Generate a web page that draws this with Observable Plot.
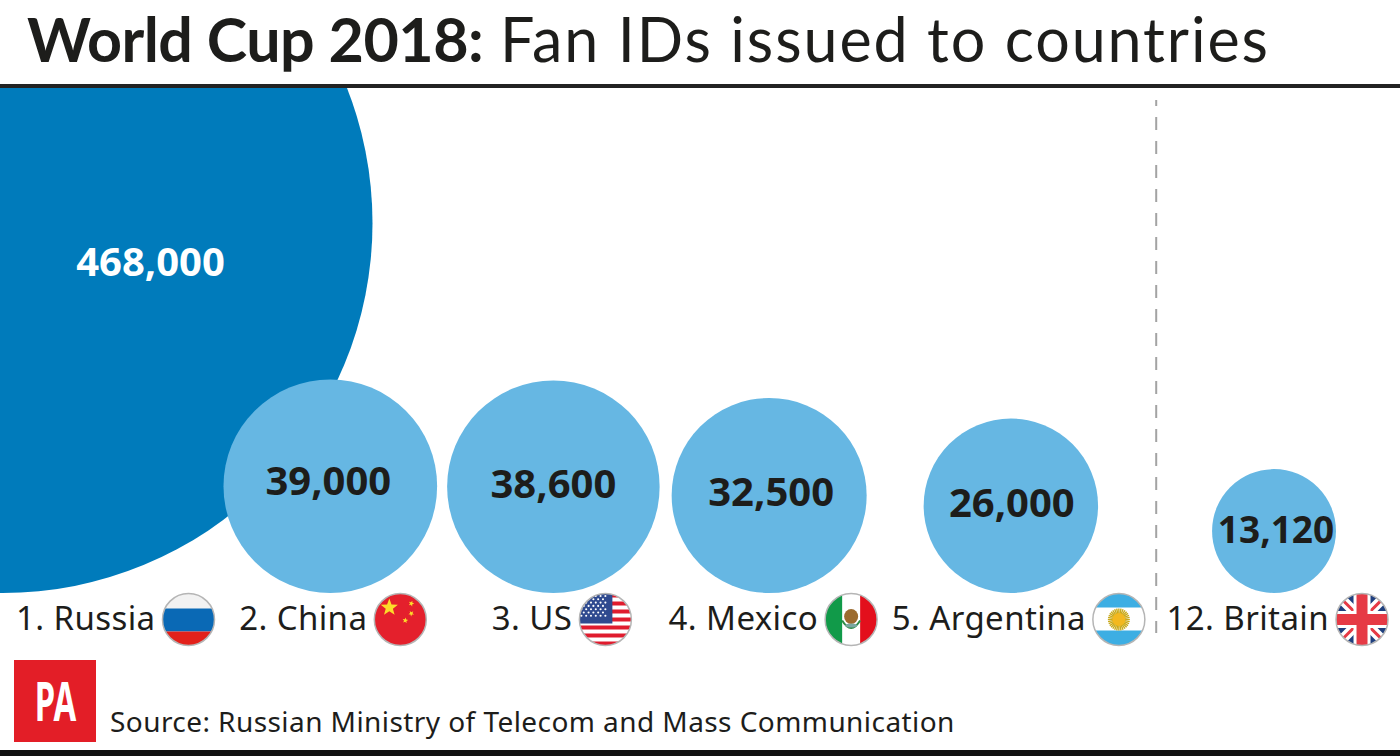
<!DOCTYPE html>
<html>
<head>
<meta charset="utf-8">
<script src="https://cdn.jsdelivr.net/npm/d3@7"></script>
<script src="https://cdn.jsdelivr.net/npm/@observablehq/plot@0.6"></script>
<style>
  html, body { margin: 0; background: #fff; overflow: hidden; }
  body { width: 1400px; height: 756px; position: relative; font-family: "Noto Sans", sans-serif; color: #1d1d1b; }
  #title { position: absolute; left: 27px; top: 0; height: 84px; width: 1373px; line-height: 78px; font-size: 61px; font-family: Lato, sans-serif; white-space: nowrap; }
  #title b { letter-spacing: -0.5px; }
  #title span { letter-spacing: 1.9px; position: absolute; left: 473px; }
  #rule { position: absolute; left: 0; top: 84px; width: 1400px; height: 4px; background: #222; }
  #chart { position: absolute; left: 0; top: 88px; }
  #chart svg { overflow: hidden; display: block; }
  #logo { position: absolute; left: 14px; top: 660px; width: 82px; height: 82px; background: #e31e27; color: #fff; font-weight: 700; font-size: 53px; line-height: 82px; text-align: center; }
  #logo span { display: inline-block; transform: scaleX(.62); }
  #source { position: absolute; left: 110px; top: 702px; font-size: 28px; line-height: 38px; letter-spacing: .43px; white-space: nowrap; }
  #bottom { position: absolute; left: 0; top: 750px; width: 1400px; height: 6px; background: #111; }
  .label text { letter-spacing: .4px; }
</style>
</head>
<body>
<div id="title"><b>World Cup 2018:</b><span>Fan IDs issued to countries</span></div>
<div id="rule"></div>
<div id="chart"></div>
<div id="logo"><span>PA</span></div>
<div id="source">Source: Russian Ministry of Telecom and Mass Communication</div>
<div id="bottom"></div>
<script>
const countries = ['Russia', 'China', 'US', 'Mexico', 'Argentina', 'Britain']
const ranks = [1, 2, 3, 4, 5, 12]
const fanIds = [468000, 39000, 38600, 32500, 26000, 13120]

// layout, not data: space between neighbouring bubbles, where flags and numbers sit
const gaps = [-149, 10, 12, 57, 114]
const flagShift = [186, 70, 52, 82, 108, 88]
const numberShiftX = [148, -2, 0, 2, 1, 2]
const numberShiftY = [40, -4, -2, -2, -2, 0]
const maxR = 370
const base = 504.5
const flagY = 531

const star = (cx, cy, r, rot) => {
  const pts = d3.range(10).map(i => {
    const a = (i * 36 + rot - 90) * Math.PI / 180, q = i % 2 ? r * 0.42 : r
    return `${cx + q * Math.cos(a)},${cy + q * Math.sin(a)}`
  })
  return `<polygon points="${pts.join(' ')}" fill="#fcdc2a"/>`
}

const usStripes = d3.range(0, 13, 2).map(i => `<rect y="${i * 4}" width="52" height="4" fill="#e01c2e"/>`).join('')
const usStars = d3.range(7).map(j => d3.range(j % 2 ? 5 : 6).map(i =>
  `<circle cx="${(j % 2 ? 4.4 : 2) + i * 4.8}" cy="${2.5 + j * 3.3}" r="1.05" fill="#fff"/>`).join('')).join('')
const sunRays = d3.range(16).map(i =>
  `<rect x="25.3" y="15" width="1.4" height="22" fill="#c9a91a" transform="rotate(${i * 11.25} 26 26)"/>`).join('')

const flags = {
  Russia: `<rect width="52" height="52" fill="#f2f2f2"/><rect y="15" width="52" height="23" fill="#0a69b5"/><rect y="38" width="52" height="14" fill="#e3211b"/>`,
  China: `<rect width="52" height="52" fill="#e4202c"/>` + star(15, 14, 9, 0) + star(37, 10, 3, 20) + star(37, 20, 3, 40) + star(31, 27, 3, 10),
  US: `<rect width="52" height="52" fill="#fff"/>` + usStripes + `<rect width="33" height="30" fill="#2f4a8f"/>` + usStars,
  Mexico: `<rect width="52" height="52" fill="#fff"/><rect width="17" height="52" fill="#119a49"/><rect x="35" width="17" height="52" fill="#e30f1c"/>
    <path d="M17 27 Q26 42 35 27" fill="none" stroke="#2c8b45" stroke-width="2"/><ellipse cx="26" cy="23" rx="7" ry="7.5" fill="#9c6b2f"/><ellipse cx="26" cy="32" rx="6" ry="2" fill="#7aa7a0"/>`,
  Argentina: `<rect width="52" height="52" fill="#fff"/><rect width="52" height="14" fill="#3daee3"/><rect y="37" width="52" height="15" fill="#3daee3"/>` + sunRays + `<circle cx="26" cy="26" r="6.5" fill="#f3b81f"/>`,
  Britain: `<rect width="52" height="52" fill="#1f3f7e"/><path d="M0 0L52 52M52 0L0 52" stroke="#fff" stroke-width="10"/><path d="M0 0L52 52M52 0L0 52" stroke="#e63a45" stroke-width="3"/>
    <path d="M26 0V52M0 26H52" stroke="#fff" stroke-width="17"/><path d="M26 0V52M0 26H52" stroke="#e63a45" stroke-width="11"/>`
}
const flagSrc = name => 'data:image/svg+xml,' + encodeURIComponent(
  `<svg xmlns="http://www.w3.org/2000/svg" viewBox="0 0 52 52" width="52" height="52">${flags[name]}</svg>`)

const rScale = d3.scaleSqrt().domain([0, fanIds[0]]).range([0, maxR])

let cx = 2
const rows = countries.map((country, i) => {
  if (i > 0) cx += rScale(fanIds[i - 1]) + gaps[i - 1] + rScale(fanIds[i])
  const r = rScale(fanIds[i])
  return {
    country,
    value: fanIds[i],
    label: `${ranks[i]}. ${country}`,
    x: cx,
    y: base - r,
    flagX: cx + flagShift[i],
    valueX: cx + numberShiftX[i],
    valueY: base - r + numberShiftY[i]
  }
})
const big = rows.slice(0, 1)
const small = rows.slice(1)

const dividerX = rows[4].x + rScale(fanIds[4]) + gaps[4] * 0.51

const chart = Plot.plot({
  width: 1400,
  height: 662,
  margin: 0,
  x: { axis: null, domain: [0, 1400], range: [0, 1400] },
  y: { axis: null, domain: [0, 662], range: [0, 662] },
  r: { type: 'sqrt', domain: [0, fanIds[0]], range: [0, maxR] },
  style: { background: 'transparent', fontFamily: '"Noto Sans", sans-serif' },
  marks: [
    Plot.ruleX([dividerX], {
      y1: 12, y2: 545, stroke: '#a3a3a3', strokeWidth: 2, strokeDasharray: '13,11', strokeDashoffset: 7
    }),
    Plot.dot(big, { x: 'x', y: 'y', r: 'value', fill: '#007bbb' }),
    Plot.dot(small, { x: 'x', y: 'y', r: 'value', fill: '#66b7e3' }),
    Plot.text(big, {
      x: 'valueX', y: 'valueY', text: d => d3.format(',')(d.value),
      fontSize: 40, fontWeight: 700, fill: '#fff'
    }),
    Plot.text(small, {
      x: 'valueX', y: 'valueY', text: d => d3.format(',')(d.value),
      fontSize: d => d.value < 20000 ? 37 : 40, fontWeight: 700, fill: '#1d1d1b'
    }),
    Plot.text(rows, {
      x: 'flagX', y: () => flagY, text: 'label', dx: -33, textAnchor: 'end',
      fontSize: 33, fill: '#1d1d1b', className: 'label'
    }),
    Plot.image(rows, {
      x: 'flagX', y: () => flagY, src: d => flagSrc(d.country), r: 26
    }),
    Plot.dot(rows, {
      x: 'flagX', y: () => flagY, r: 26, fill: 'none', stroke: '#b5b5b5', strokeWidth: 1.5
    })
  ]
})
document.getElementById('chart').append(chart)
</script>
</body>
</html>
